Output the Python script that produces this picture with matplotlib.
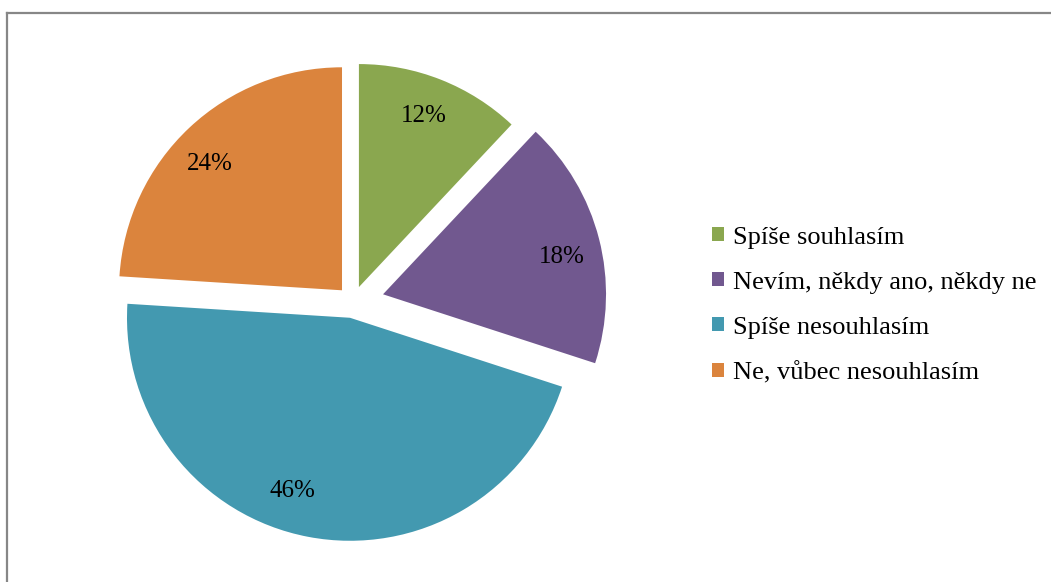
import numpy as np
import matplotlib
matplotlib.use("Agg")
import matplotlib.pyplot as plt
from matplotlib.patches import Patch
from matplotlib.lines import Line2D

# survey answers, clockwise from the top
labels = ["Spíše souhlasím", "Nevím, někdy ano, někdy ne",
          "Spíše nesouhlasím", "Ne, vůbec nesouhlasím"]
shares = [12, 18, 46, 24]
colors = ["#8aa74f", "#71588f", "#4399b0", "#db843d"]
explode = [0.072, 0.139, 0.072, 0.072]

plt.rcParams["font.family"] = ["Liberation Serif", "DejaVu Serif"]

W, H = 1051, 582
fig = plt.figure(figsize=(W / 100, H / 100), dpi=100)

# square axes around the pie centre, 500 px wide
cx, cy, side = 353, 302, 500
ax = fig.add_axes([(cx - side / 2) / W, (H - cy - side / 2) / H, side / W, side / H])
lim = (side / 2) / 223
wedges, texts, autotexts = ax.pie(
    shares, colors=colors, explode=explode, startangle=90, counterclock=False,
    autopct="%.0f%%", pctdistance=0.82, radius=1.0,
    wedgeprops=dict(linewidth=0),
    textprops=dict(fontsize=18, color="black"),
)

# nudge the percentage labels a little around each wedge
shift = [0.8, -2.7, -7.6, 2.9]
for w, t, d in zip(wedges, autotexts, shift):
    a = np.deg2rad((w.theta1 + w.theta2) / 2 + d)
    x, y = w.center
    t.set_position((x + 0.82 * np.cos(a), y + 0.82 * np.sin(a)))

ax.set_xlim(-lim, lim)
ax.set_ylim(-lim, lim)
ax.axis("off")

handles = [Patch(facecolor=c, edgecolor="none") for c in colors]
fig.legend(handles, labels, loc="center left",
           bbox_to_anchor=(712 / W, 1 - 305.5 / H),
           frameon=False, fontsize=19, borderpad=0, borderaxespad=0,
           handlelength=0.45, handleheight=0.45, handletextpad=0.34,
           labelspacing=0.87)

# chart-area frame (top and left edges)
x0, y0 = 6.5 / W, 1 - 12.5 / H
fig.add_artist(Line2D([x0, 1.01], [y0, y0], color="#878787", lw=1.6,
                      transform=fig.transFigure))
fig.add_artist(Line2D([x0, x0], [y0, -0.01], color="#878787", lw=1.6,
                      transform=fig.transFigure))

fig.savefig("out.png", dpi=100, facecolor="white")
